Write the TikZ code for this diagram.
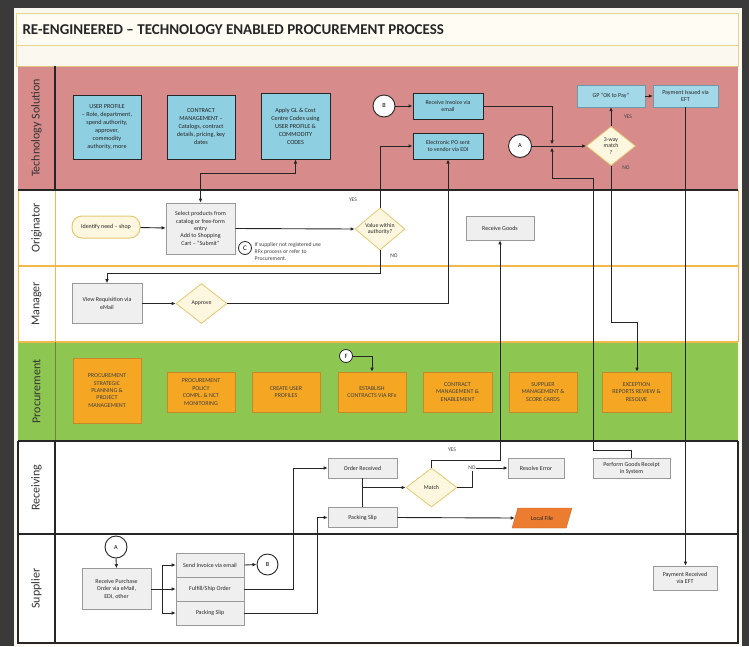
\documentclass[tikz,border=0pt]{standalone}
\usepackage{fontspec}
\setmainfont{Carlito}
\usetikzlibrary{arrows.meta,shapes.geometric}

\definecolor{bgdark}{HTML}{3A3A3A}
\definecolor{panel}{HTML}{FBF8EF}
\definecolor{titlefill}{HTML}{FFFDF3}
\definecolor{titleline}{HTML}{E6D487}
\definecolor{techpink}{HTML}{D78B8B}
\definecolor{techblue}{HTML}{8ECFE1}
\definecolor{techblue2}{HTML}{A3D8E8}
\definecolor{procgreen}{HTML}{8DC651}
\definecolor{procorange}{HTML}{F5A623}
\definecolor{procline}{HTML}{C48A2A}
\definecolor{boxgrey}{HTML}{EFEFEF}
\definecolor{diamfill}{HTML}{FDF7DF}
\definecolor{diamline}{HTML}{E3C874}
\definecolor{laneorange}{HTML}{F2B84B}
\definecolor{localorange}{HTML}{EC7C30}
\definecolor{linedark}{HTML}{262626}

\tikzset{
  lanelbl/.style={rotate=90, font=\fontsize{12}{14}\selectfont, text=black!80},
  boxbase/.style={rectangle, align=center, inner sep=1pt, font=\fontsize{6}{7.4}\selectfont, text=black!85},
  techbox/.style={boxbase, draw=linedark, line width=1pt, fill=techblue, font=\fontsize{6.2}{8}\selectfont},
  paybox/.style={boxbase, draw=techblue!75!black, line width=0.4pt, fill=techblue2},
  greybox/.style={boxbase, draw=black!40, line width=0.6pt, fill=boxgrey},
  procbox/.style={boxbase, draw=procline, line width=0.6pt, fill=procorange, text=black!75},
  decision/.style={diamond, align=center, inner sep=-1.5pt, draw=diamline, line width=0.8pt, fill=diamfill,
    font=\fontsize{5.8}{6.8}\selectfont, text=black!85},
  connector/.style={circle, draw=linedark, line width=0.9pt, fill=white, inner sep=0pt,
    font=\fontsize{6.2}{7}\selectfont},
  wire/.style={draw=linedark, line width=0.9pt},
  flow/.style={wire, -{Latex[length=4pt,width=3.6pt]}},
  lbl/.style={font=\fontsize{5.6}{6.6}\selectfont, text=black!75, inner sep=0.5pt},
}

\begin{document}
\begin{tikzpicture}[x=1pt,y=-1pt]
\useasboundingbox (0,0) rectangle (749,646);

% page and frame
\fill[bgdark] (0,0) rectangle (749,646);
\fill[panel] (14,8) rectangle (742,646);
\draw[titleline, fill=titlefill, line width=0.8pt] (16,13) rectangle (738,45);
\draw[titleline, fill=panel, line width=0.8pt] (16,45) rectangle (738,66);
\node[anchor=west, font=\bfseries\fontsize{15}{17}\selectfont, text=black!85] (title) at (19,29.5)
  {RE-ENGINEERED -- TECHNOLOGY ENABLED PROCUREMENT PROCESS};

% swimlanes
\fill[techpink] (18,66) rectangle (738,190);
\fill[white] (18,190) rectangle (738,342);
\fill[procgreen] (18,342) rectangle (738,441);
\fill[white] (18,441) rectangle (738,643);
\draw[titleline!80!brown, line width=1pt] (18,66) -- (738,66);
\draw[laneorange, line width=1pt] (18,190) -- (18,342) (738,190) -- (738,342) (55,190) -- (55,342);
\draw[laneorange, line width=1.6pt] (18,266) -- (738,266) (18,342) -- (738,342);
\draw[procgreen!70!black, line width=0.6pt] (55,342) -- (55,441);
\draw[linedark, line width=1.1pt] (55,66) -- (55,190) (18,190) -- (738,190);
\draw[linedark, line width=1.1pt] (18,441) -- (738,441) (18,534) -- (738,534);
\draw[linedark, line width=1.1pt] (18,441) -- (18,643) -- (738,643) -- (738,441) (55,441) -- (55,643);

\node[lanelbl] (lnTech) at (36.5,128) {Technology Solution};
\node[lanelbl] (lnOrig) at (36.5,228) {Originator};
\node[lanelbl] (lnMgr)  at (36.5,304) {Manager};
\node[lanelbl] (lnProc) at (36.5,391.5) {Procurement};
\node[lanelbl] (lnRecv) at (36.5,487.5) {Receiving};
\node[lanelbl] (lnSupp) at (36.5,588.5) {Supplier};

% Technology Solution
\node[techbox, minimum width=68pt, minimum height=64pt] (user) at (107,127)
  {USER PROFILE\\ -- Role, department,\\ spend authority,\\ approver,\\ commodity\\ authority, more};
\node[techbox, minimum width=68pt, minimum height=64pt] (contract) at (201,127)
  {CONTRACT\\ MANAGEMENT --\\ Catalogs, contract\\ details, pricing, key\\ dates};
\node[techbox, minimum width=69pt, minimum height=66pt] (applygl) at (295.5,126)
  {Apply GL \& Cost\\ Centre Codes using\\ USER PROFILE \&\\ COMMODITY\\ CODES};
\node[connector, minimum size=22pt] (circB) at (384,106) {B};
\node[techbox, minimum width=70pt, minimum height=26pt, font=\fontsize{5.9}{7.2}\selectfont] (recvinv) at (448,106)
  {Receive Invoice via\\ email};
\node[techbox, minimum width=70pt, minimum height=26pt, font=\fontsize{5.9}{7.2}\selectfont] (epo) at (448,146)
  {Electronic PO sent\\ to vendor via EDI};
\node[connector, minimum size=23pt] (circA) at (520,146) {A};
\node[decision, minimum width=49pt, minimum height=39pt] (match3) at (611,146) {3-way\\ match\\ ?};
\node[paybox, minimum width=68pt, minimum height=22pt] (gp) at (611,96) {GP \textquotedblleft OK to Pay\textquotedblright};
\node[paybox, minimum width=65pt, minimum height=22pt] (payiss) at (685.5,96) {Payment Issued via\\ EFT};
\node[lbl] (yesT) at (628,117) {YES};
\node[lbl] (noT) at (626,168) {NO};
\coordinate (xjoin) at (552,146);

% Originator
\node[boxbase, rounded corners=10pt, draw=diamline, line width=1pt, fill=diamfill,
  minimum width=68pt, minimum height=22pt] (identify) at (106,227) {Identify need -- shop};
\node[greybox, minimum width=69pt, minimum height=51pt] (select) at (200.5,228.5)
  {Select products from\\ catalog or free-form\\ entry\\ Add to Shopping\\ Cart -- \textquotedblleft Submit\textquotedblright};
\node[connector, minimum size=13pt, line width=0.8pt, font=\fontsize{7}{8}\selectfont] (circC) at (245,248) {C};
\node[lbl, anchor=west, align=left, font=\fontsize{5.7}{7}\selectfont] (note) at (254,252)
  {If supplier not registered use\\ RFx process or refer to\\ Procurement.};
\node[decision, minimum width=50pt, minimum height=42pt] (valdiam) at (380,229) {Value within\\ authority?};
\node[lbl] (yesO) at (353,200) {YES};
\node[lbl] (noO) at (394,256) {NO};
\node[greybox, minimum width=68pt, minimum height=24pt] (recvgoods) at (500,228) {Receive Goods};

% Manager
\node[greybox, minimum width=70pt, minimum height=40pt] (viewreq) at (107,303.5) {View Requisition via\\ eMail};
\node[decision, minimum width=51pt, minimum height=40pt] (approve) at (201.5,303.5) {Approve};

% Procurement
\node[procbox, minimum width=68pt, minimum height=65pt] (p1) at (107,390.5)
  {PROCUREMENT\\ STRATEGIC\\ PLANNING \&\\ PROJECT\\ MANAGEMENT};
\node[procbox, minimum width=68pt, minimum height=40pt] (p2) at (201,392)
  {PROCUREMENT\\ POLICY\\ COMPL. \& NCT\\ MONITORING};
\node[procbox, minimum width=68pt, minimum height=40pt] (p3) at (286,392) {CREATE USER\\ PROFILES};
\node[procbox, minimum width=68pt, minimum height=40pt] (p4) at (372,392) {ESTABLISH\\ CONTRACTS VIA RFx};
\node[procbox, minimum width=69pt, minimum height=40pt] (p5) at (457.5,392) {CONTRACT\\ MANAGEMENT \&\\ ENABLEMENT};
\node[procbox, minimum width=68pt, minimum height=40pt] (p6) at (543,392) {SUPPLIER\\ MANAGEMENT \&\\ SCORE CARDS};
\node[procbox, minimum width=69pt, minimum height=40pt] (p7) at (636.5,392) {EXCEPTION\\ REPORTS REVIEW \&\\ RESOLVE};
\node[connector, minimum size=13pt, line width=0.8pt, font=\fontsize{6.5}{7}\selectfont] (circF) at (346,356) {F};

% Receiving
\node[greybox, minimum width=69pt, minimum height=20pt] (orderrec) at (362.5,468) {Order Received};
\node[greybox, minimum width=69pt, minimum height=20pt] (packslip) at (362.5,517.5) {Packing Slip};
\node[decision, minimum width=51pt, minimum height=39pt] (match) at (431.5,487.5) {Match};
\node[greybox, minimum width=56pt, minimum height=20pt] (resolve) at (536,468) {Resolve Error};
\node[greybox, minimum width=77pt, minimum height=20pt] (goodsrec) at (631.5,468.5)
  {Perform Goods Receipt\\ in System};
\node[trapezium, trapezium left angle=65, trapezium right angle=115, trapezium stretches=true,
  fill=localorange, draw=localorange!85!black, line width=0.4pt, minimum width=60pt, minimum height=20pt,
  inner sep=1pt, font=\fontsize{6}{7}\selectfont, text=black!85] (localfile) at (542,518) {Local File};
\node[lbl] (yesR) at (452,450) {YES};
\node[lbl] (noR) at (472,468) {NO};

% Supplier
\node[connector, minimum size=22pt] (circA2) at (116,547) {A};
\node[greybox, minimum width=69pt, minimum height=41pt] (recvpo) at (116.5,589)
  {Receive Purchase\\ Order via eMail,\\ EDI, other};
\node[greybox, minimum width=68pt, minimum height=24pt] (sendinv) at (210,565) {Send Invoice via email};
\node[greybox, minimum width=68pt, minimum height=24pt] (fulfill) at (210,589) {Fulfill/Ship Order};
\node[greybox, minimum width=68pt, minimum height=24pt] (packslip2) at (210,613) {Packing Slip};
\node[connector, minimum size=21pt] (circB2) at (267.5,564.5) {B};
\node[greybox, minimum width=64pt, minimum height=24pt] (payrec) at (685,578) {Payment Received\\ via EFT};

% turning points of the connectors
\coordinate (selup) at (295.5,173);
\coordinate (noturn) at (380,273);
\coordinate (exturn) at (637,322);
\coordinate (grA) at (593,450);
\coordinate (grB) at (593,178);
\coordinate (grC) at (552,178);
\coordinate (mjoin) at (362.5,487.5);
\coordinate (yesturn) at (500,460);
\coordinate (split) at (162,589);
\coordinate (fulx) at (293,589);
\coordinate (psx) at (317,613);

% connectors: technology solution
\draw[flow] (circB) -- (recvinv);
\draw[flow] (recvinv.east) -| ([yshift=1.6pt]xjoin);
\draw[flow] (goodsrec.north) |- (grA) -- (grB) -- (grC) -- ([yshift=-1.6pt]xjoin);
\draw[flow] (circA) -- (match3.west);
\draw[flow] (match3.north) -- (gp.south);
\draw[flow] (gp.east) -- (payiss.west);
\draw[flow] (payiss.south) -- (payiss.south |- payrec.north);
\draw[flow] (match3.south) |- (exturn) -- (exturn |- p7.north);

% connectors: originator and manager
\draw[flow] (identify) -- (select);
\draw[wire, {Latex[length=4pt,width=3.6pt]}-{Latex[length=4pt,width=3.6pt]}]
  (select.north) |- (selup) -- (applygl.south);
\draw[flow] (select.east) -- (valdiam.west);
\draw[flow] (valdiam.north) |- (epo.west);
\draw[flow] (valdiam.south) -- (noturn) -| (viewreq.north);
\draw[flow] (viewreq.east) -- (approve.west);
\draw[flow] (approve.east) -| (epo.south);

% connectors: procurement
\draw[flow] (circF.east) -| (p4.north);

% connectors: receiving
\draw[wire] (orderrec.south) -- (packslip.north);
\draw[flow] (mjoin) -- (match.west);
\draw[flow] (match.north) |- (yesturn) -- (recvgoods.south);
\draw[wire] (match.east) -| (noR.south);
\draw[flow] (noR.east) -- (resolve.west);
\draw[flow] (packslip.east) -- (localfile.west);

% connectors: supplier
\draw[flow] (circA2.south) -- (recvpo.north);
\draw[wire] (recvpo.east) -- (split);
\draw[flow] (split) |- (sendinv.west);
\draw[flow] (split) -- (fulfill.west);
\draw[flow] (split) |- (packslip2.west);
\draw[flow] (sendinv.east) -- (circB2.west);
\draw[flow] (fulfill.east) -- (fulx) |- (orderrec.west);
\draw[flow] (packslip2.east) -- (psx) |- (packslip.west);

\end{tikzpicture}
\end{document}
